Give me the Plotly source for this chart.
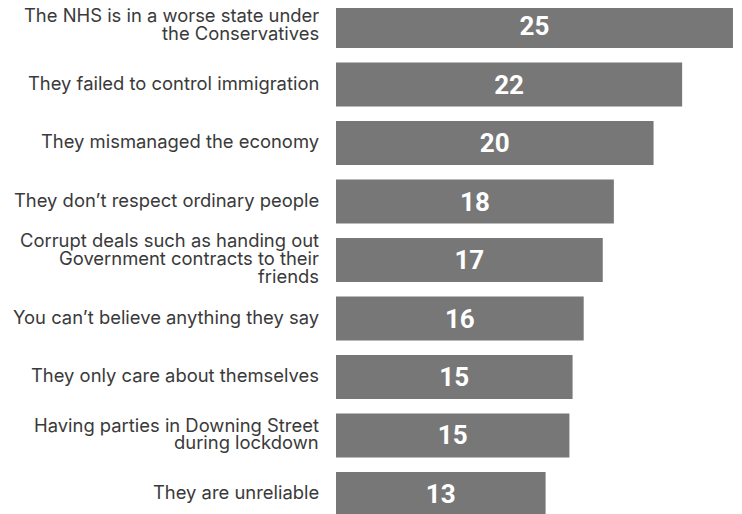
import plotly.graph_objects as go

categories = [
    "The NHS is in a worse state under<br>the Conservatives",
    "They failed to control immigration",
    "They mismanaged the economy",
    "They don’t respect ordinary people",
    "Corrupt deals such as handing out<br>Government contracts to their<br>friends",
    "You can’t believe anything they say",
    "They only care about themselves",
    "Having parties in Downing Street<br>during lockdown",
    "They are unreliable",
]
values = [25.0, 21.8, 20.0, 17.5, 16.8, 15.6, 14.9, 14.7, 13.2]
value_labels = ["25", "22", "20", "18", "17", "16", "15", "15", "13"]

BAR_COLOR = "#777777"
LABEL_COLOR = "#3a3a3a"
LABEL_FONT = dict(family="Inter", size=18.4, color=LABEL_COLOR)
LINE_STEP = 17.7

idx = list(range(len(categories)))

fig = go.Figure(
    go.Bar(
        x=values,
        y=idx,
        orientation="h",
        width=0.752,
        marker=dict(color=BAR_COLOR, line=dict(width=0)),
        text=[f"<b>{v}</b>" for v in value_labels],
        textposition="inside",
        insidetextanchor="middle",
        textangle=0,
        textfont=dict(family="Roboto", size=26, color="white"),
        hoverinfo="skip",
    )
)

annotations = []
for i, cat in enumerate(categories):
    lines = cat.split("<br>")
    n = len(lines)
    for k, line in enumerate(lines):
        annotations.append(
            dict(
                xref="paper", x=0, xanchor="right", xshift=-15,
                yref="y", y=i, yanchor="middle",
                yshift=((n - 1) / 2 - k) * LINE_STEP + 2,
                text=line, showarrow=False, font=LABEL_FONT,
            )
        )

# page body has an 8px default margin, so the figure is sized to fit the window
fig.update_layout(
    width=734,
    height=506,
    margin=dict(l=328, r=0, t=0, b=0),
    paper_bgcolor="white",
    plot_bgcolor="white",
    showlegend=False,
    annotations=annotations,
    xaxis=dict(range=[0, 25.57], visible=False, fixedrange=True),
    yaxis=dict(range=[8.342, -0.308], visible=False, fixedrange=True),
)

fig.write_html("out.html")
